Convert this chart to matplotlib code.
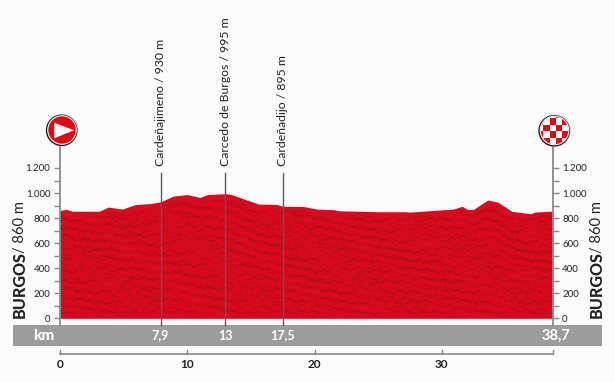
import numpy as np
import matplotlib
matplotlib.use("Agg")
import matplotlib.pyplot as plt
from matplotlib.patches import Circle, Polygon, Rectangle

plt.rcParams["font.family"] = ["Lato", "DejaVu Sans"]

# profile
km = [0, 0.5, 0.95, 3.1, 3.8, 4.9, 5.9, 7.1, 7.9, 8.9, 10, 11, 11.6, 13, 13.4, 15.6,
      17, 17.5, 19.1, 20.2, 21.5, 22, 23, 24.9, 27.1, 27.5, 30.9, 31.6, 32, 32.5,
      33.6, 34.4, 35.5, 37, 37.3, 38.7]
alt = [860, 870, 855, 855, 888, 872, 908, 916, 930, 976, 988, 965, 988, 995, 990, 912,
       910, 895, 893, 872, 867, 858, 856, 851, 851, 848, 872, 894, 870, 870,
       944, 928, 854, 835, 848, 856]

passes = ["Cardeñajimeno / 930 m", "Carcedo de Burgos / 995 m", "Cardeñadijo / 895 m"]
pass_km = [7.9, 13, 17.5]
pass_labels = ["7,9", "13", "17,5"]

y_major = [0, 200, 400, 600, 800, 1000, 1200]
y_labels = ["0", "200", "400", "600", "800", "1.000", "1.200"]
y_minor = [100, 300, 500, 700, 900, 1100]
x_major = [0, 10, 20, 30]
total_km = 38.7

W, H = 615, 382
BG = "#fbfbfb"
RED = "#da0a1e"
GREY = "#8a8a8a"
DARK = "#222222"

fig = plt.figure(figsize=(W / 100, H / 100), dpi=100, facecolor=BG)

# overlay in pixel coords, for the band
bg = fig.add_axes([0, 0, 1, 1], zorder=0)
bg.set_xlim(0, W)
bg.set_ylim(H, 0)
bg.axis("off")
bg.add_patch(Rectangle((12.5, 325), 589.5, 20.7, fc="#9c9c9c", ec="none"))

# chart axes
x0, x1 = 60, 552.5
y0, y1 = 318.3, 168
ax = fig.add_axes([x0 / W, 1 - y0 / H, (x1 - x0) / W, (y0 - y1) / H], zorder=2)
ax.patch.set_alpha(0)
ax.set_xlim(0, total_km)
ax.set_ylim(0, 1200)

ax.fill_between(km, alt, 0, color=RED, lw=0, zorder=2)

# terrain texture: darker wavy lines following the profile
km_fine = np.linspace(0, total_km, 1200)
alt_fine = np.interp(km_fine, km, alt)
for i, f in enumerate(np.arange(0.03, 0.95, 0.024)):
    wob = (8 * np.sin(km_fine * 1.9 + i * 2.1) + 7 * np.sin(km_fine * 5.9 + i * 2.9)
           + 6 * np.sin(km_fine * 13.1 + i * 0.7) + 4 * np.sin(km_fine * 31.3 + i * 1.3)
           + 3 * np.sin(km_fine * 47.7 + i * 3.7))
    fade = 0.5 + 0.5 * np.sin(km_fine * 1.3 + i * 1.9)
    top = alt_fine * f + wob
    ax.plot(km_fine, np.where(fade > 0.35, top, np.nan), color="#6e141a", lw=0.8,
            alpha=0.1 + 0.2 * ((i * 3) % 4) / 3, zorder=3)
ax.plot([0, total_km], [4, 4], color="#7a1a20", lw=1, alpha=0.7, zorder=3)

for s in ax.spines.values():
    s.set_visible(False)
ax.set_xticks([])
ax.set_yticks(y_major)
ax.set_yticklabels(y_labels)
ax.set_yticks(y_minor, minor=True)
ax.tick_params(axis="y", which="both", length=4, width=1, color=GREY, pad=3,
               labelsize=7, labelcolor=DARK)

# same scale on the right side
ax2 = ax.twinx()
ax2.patch.set_alpha(0)
ax2.set_ylim(0, 1200)
for s in ax2.spines.values():
    s.set_visible(False)
ax2.set_yticks(y_major)
ax2.set_yticklabels(y_labels)
ax2.set_yticks(y_minor, minor=True)
ax2.tick_params(axis="y", which="both", length=4, width=1, color=GREY, pad=3,
                labelsize=7, labelcolor=DARK)

# start/finish posts and pass lines
for xk in [0, total_km]:
    ax.plot([xk, xk], [-52, 1400], color=GREY, lw=1.3, clip_on=False, zorder=6)
for xk, name in zip(pass_km, passes):
    ax.plot([xk, xk], [-52, 1163], color="#5a5a5a", lw=1, clip_on=False, zorder=6)
    ax.text(xk - 0.02, 1215, name, rotation=90, ha="center", va="bottom", fontsize=8.8,
            color=DARK, clip_on=False)

# km band labels
over = fig.add_axes([0, 0, 1, 1], zorder=5)
over.set_xlim(0, W)
over.set_ylim(H, 0)
over.axis("off")
over.text(44, 335.5, "km", color="white", fontsize=11, fontweight="black", ha="center", va="center")
for xk, lab in zip(pass_km, pass_labels):
    over.text(x0 + xk * (x1 - x0) / total_km, 335.5, lab, color="white", fontsize=9,
              fontweight="bold", ha="center", va="center")
over.text(555.5, 335.5, "38,7", color="white", fontsize=10.5, fontweight="bold", ha="center", va="center")

# km axis under the band
px_per_km = (x1 - x0) / total_km
over.plot([x0, x1], [354, 354], color=GREY, lw=1.2)
for xk in x_major + [total_km]:
    xp = x0 + xk * px_per_km
    over.plot([xp, xp], [350, 354], color=GREY, lw=1)
for xk in x_major:
    over.text(x0 + xk * px_per_km, 364, str(xk), color=DARK, fontsize=8.5, fontweight="bold",
              ha="center", va="center")

# start / finish names
for xp in [20, 597]:
    over.text(xp, 318, "BURGOS", rotation=90, ha="center", va="bottom", fontsize=11.6,
              fontweight="black", color=DARK)
    over.text(xp, 253, "/ 860 m", rotation=90, ha="center", va="bottom", fontsize=10.6, color=DARK)


def sign(cx, cy):
    over.add_patch(Circle((cx, cy), 16.5, fc="#dddddd", ec="none", zorder=7))
    over.add_patch(Circle((cx - 0.3, cy + 0.3), 15.8, fc="#1a1a1a", ec="none", zorder=7))
    over.add_patch(Circle((cx, cy), 14.8, fc="white", ec="none", zorder=7))
    return Circle((cx, cy), 13.7, fc="#e30613", ec="none", zorder=8)


# start icon
over.add_patch(sign(62, 130))
over.add_patch(Polygon([[54.3, 122.7], [54.3, 138.3], [74, 130.3]], fc="white", ec="none", zorder=9))

# finish icon: checker clipped to the disc
disc = sign(554.5, 130.5)
over.add_patch(disc)
for i in range(-4, 4):
    for j in range(-4, 4):
        if (i + j) % 2 == 0:
            sq = Rectangle((554.5 + i * 6.4 + 1.4, 130.5 + j * 6.4 + 0.6), 6.4, 6.4, fc="white", ec="none", zorder=9)
            over.add_patch(sq)
            sq.set_clip_path(disc)

fig.savefig("out.png", dpi=100, facecolor=BG)
